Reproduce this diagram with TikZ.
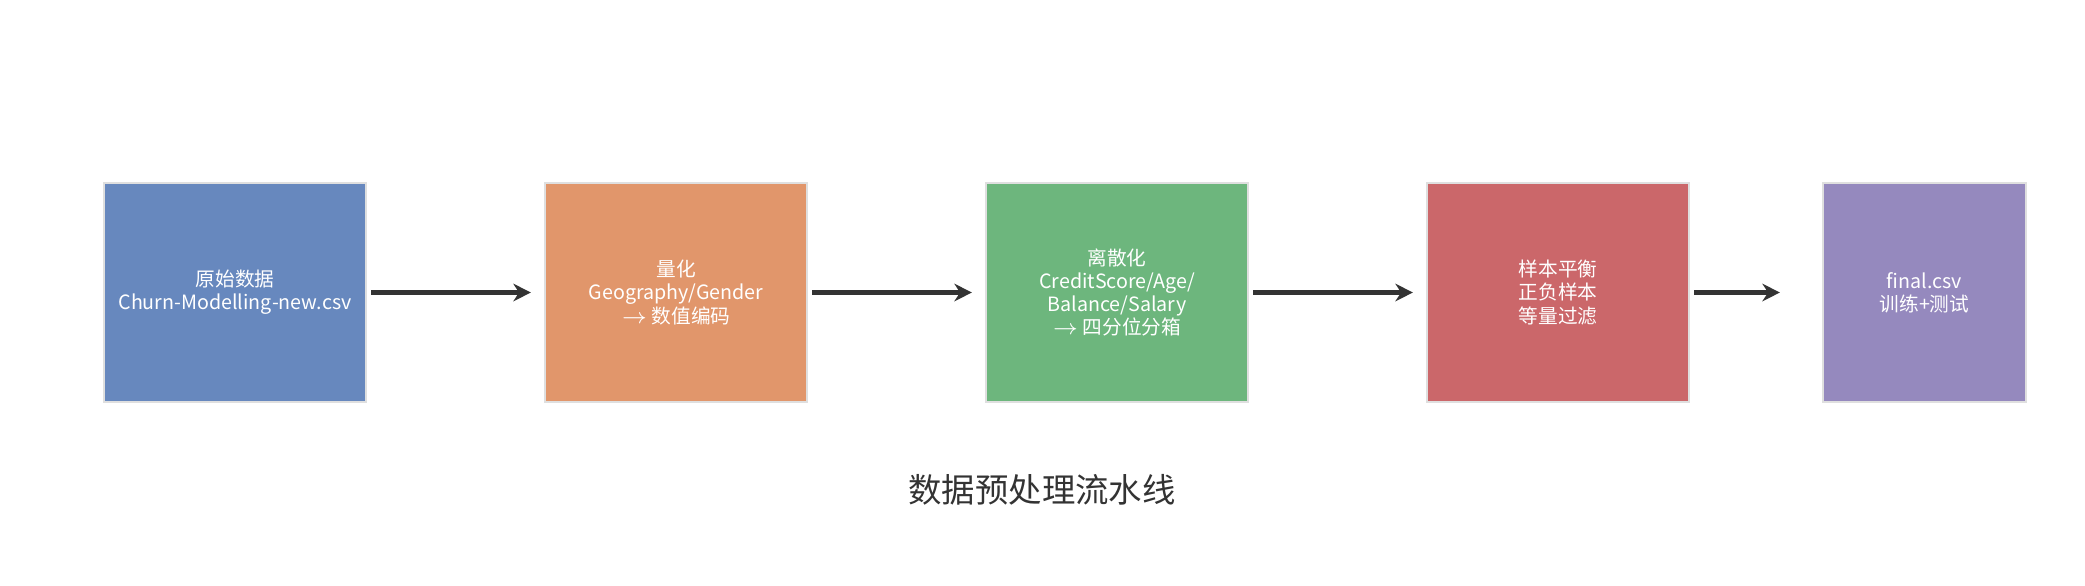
\documentclass[tikz,border=0pt]{standalone}
\usepackage{fontspec}
\setmainfont{Noto Sans CJK SC}
\usetikzlibrary{arrows.meta}
\definecolor{stepblue}{HTML}{6788BE}
\definecolor{steporange}{HTML}{E1966B}
\definecolor{stepgreen}{HTML}{6DB67D}
\definecolor{stepred}{HTML}{CB676A}
\definecolor{steppurple}{HTML}{9589BE}
\definecolor{darkline}{HTML}{333333}
\begin{document}
\begin{tikzpicture}[>={Stealth[length=5pt,width=5pt]},
    step node/.style={rectangle,draw=gray!25,line width=0.6pt,minimum height=2.19cm,
      minimum width=2.62cm,align=center,text=white,font=\fontsize{5.6}{6.6}\selectfont},
    flow/.style={->,draw=darkline,line width=1.6pt,shorten >=2pt}]
    \useasboundingbox (0,0) rectangle (20.85,5.85);
    \node[step node,fill=stepblue] (raw) at (2.35,2.925) {原始数据\\Churn-Modelling-new.csv};
    \node[step node,fill=steporange] (quant) at (6.76,2.925) {量化\\Geography/Gender\\$\rightarrow$ 数值编码};
    \node[step node,fill=stepgreen] (disc) at (11.17,2.925) {离散化\\CreditScore/Age/\\Balance/Salary\\$\rightarrow$ 四分位分箱};
    \node[step node,fill=stepred] (bal) at (15.58,2.925) {样本平衡\\正负样本\\等量过滤};
    \node[step node,fill=steppurple,minimum width=2.03cm] (final) at (19.245,2.925) {final.csv\\训练+测试};
    \draw[flow] (raw.east) ++(0.04,0) -- ([xshift=-0.06cm]quant.west);
    \draw[flow] (quant.east) ++(0.04,0) -- ([xshift=-0.06cm]disc.west);
    \draw[flow] (disc.east) ++(0.04,0) -- ([xshift=-0.06cm]bal.west);
    \draw[flow] (bal.east) ++(0.04,0) -- ([xshift=-0.35cm]final.west);
    \node[font=\fontsize{9.5}{11}\selectfont,text=darkline] (title) at (10.42,0.95) {数据预处理流水线};
\end{tikzpicture}
\end{document}
